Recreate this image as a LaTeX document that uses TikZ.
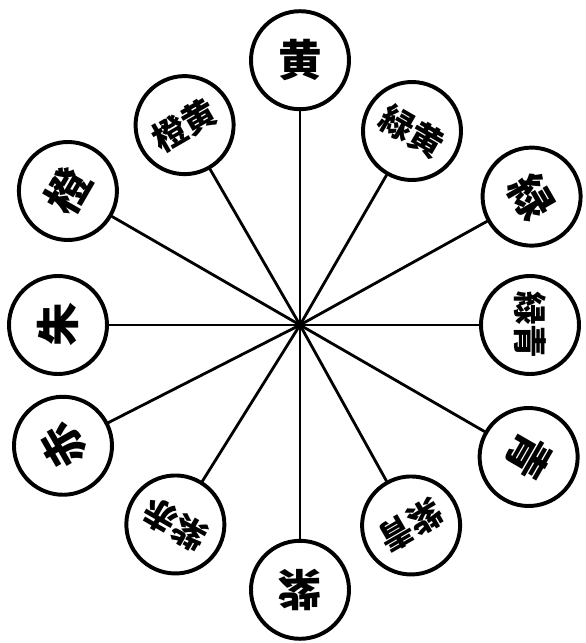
\documentclass[tikz,border=0pt]{standalone}
\usepackage{fontspec}
\newfontfamily\cjk{Noto Sans CJK JP}

\begin{document}
\begin{tikzpicture}[line cap=round,
  hue/.style={circle, draw, fill=white, line width=2.8pt, minimum size=2.45cm,
    inner sep=0pt, font=\cjk\bfseries\fontsize{31}{31}\selectfont},
  mix/.style={hue, font=\cjk\bfseries\fontsize{24}{24}\selectfont},
  spoke/.style={line width=2pt}]
\useasboundingbox (-7.5,-7.95) rectangle (7.125,8.125);
\coordinate (O) at (0,0);

% primary hues on the outer ring
\node[hue, rotate=0] (Y) at (90:6.62) {黄};
\node[hue, rotate=-60] (G) at (29:6.62) {緑};
\node[hue, rotate=-120] (B) at (-30:6.6) {青};
\node[hue, rotate=180] (V) at (-90:6.62) {紫};
\node[hue, rotate=120] (R) at (207:6.65) {赤};
\node[hue, rotate=60] (O1) at (150:6.7) {橙};

% mixtures on the inner ring
\node[mix, rotate=-30] (YG) at (60:5.6) {緑黄};
\node[mix, rotate=-90] (GB) at (0:5.75) {緑青};
\node[mix, rotate=-150] (BV) at (-61:5.73) {紫青};
\node[mix, rotate=150] (VR) at (238:5.88) {紫赤};
\node[hue, rotate=90] (RO) at (180:6.05) {朱};
\node[mix, rotate=30] (OY) at (120:5.77) {橙黄};

\draw[spoke] (O) -- (Y);
\draw[spoke] (O) -- (YG);
\draw[spoke] (O) -- (G);
\draw[spoke] (O) -- (GB);
\draw[spoke] (O) -- (B);
\draw[spoke] (O) -- (BV);
\draw[spoke] (O) -- (V);
\draw[spoke] (O) -- (VR);
\draw[spoke] (O) -- (R);
\draw[spoke] (O) -- (RO);
\draw[spoke] (O) -- (O1);
\draw[spoke] (O) -- (OY);
\end{tikzpicture}
\end{document}
